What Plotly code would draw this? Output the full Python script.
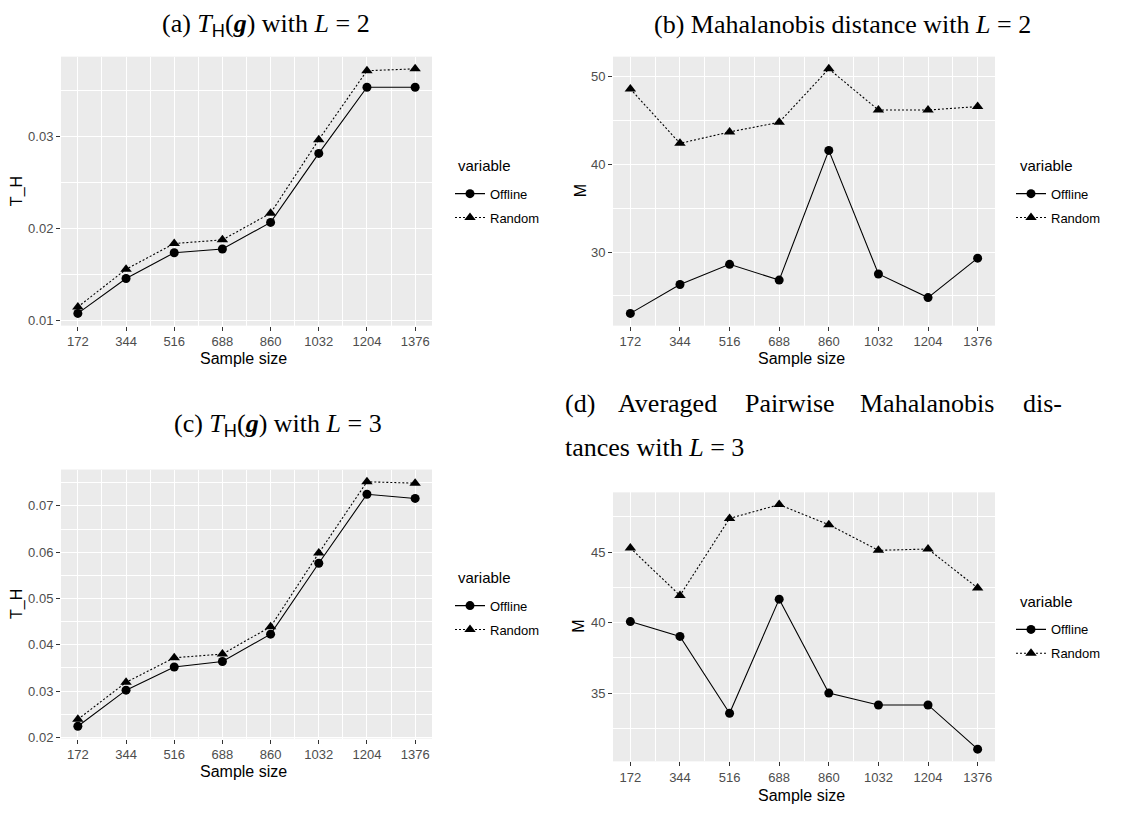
import plotly.graph_objects as go

# ---------------- data ----------------
sample_size = [172, 344, 516, 688, 860, 1032, 1204, 1376]
series_names = ["Offline", "Random"]

a_offline = [0.0108, 0.0146, 0.0174, 0.0178, 0.0207, 0.0282, 0.0354, 0.0354]
a_random = [0.0115, 0.0156, 0.0184, 0.0188, 0.0217, 0.0297, 0.0372, 0.0374]

b_offline = [23.0, 26.3, 28.6, 26.8, 41.6, 27.5, 24.8, 29.3]
b_random = [48.6, 42.4, 43.7, 44.8, 50.9, 46.2, 46.2, 46.6]

c_offline = [0.0224, 0.0302, 0.0352, 0.0364, 0.0423, 0.0576, 0.0725, 0.0716]
c_random = [0.0239, 0.0319, 0.0372, 0.0380, 0.0439, 0.0598, 0.0752, 0.0749]

d_offline = [40.07, 39.02, 33.57, 41.66, 35.0, 34.16, 34.16, 31.03]
d_random = [45.28, 41.92, 47.38, 48.36, 46.94, 45.12, 45.21, 42.45]

y_labels = ["T_H", "M", "T_H", "M"]
legend_title = "variable"

# ---------------- layout helpers ----------------
# the page body has an 8px margin, so the figure is drawn 8px in from the corner
OFF = 8
W, H = 1122 - OFF, 815 - OFF


def px(x):
    return (x - OFF) / W


def py(y):
    return 1 - (y - OFF) / H


# panel pixel boxes (in page coordinates): (left, top, right, bottom)
panels = [
    (61, 57, 432, 328),
    (613, 57, 995, 328),
    (61, 473, 432, 744),
    (613, 496, 995, 767),
]
y_dticks = [(0.01, 0.005), (10, 5), (0.01, 0.005), (5, 2.5)]
data = [(a_offline, a_random), (b_offline, b_random), (c_offline, c_random), (d_offline, d_random)]
legend_title_y = [167, 167, 582, 606]
legend_title_x = [456, 1018, 456, 1018]
legend_lefts = [450, 1011, 450, 1011]
xtitle_y = [361, 361, 777, 801]
ytitle_x = [17, 580, 17, 579]

fig = go.Figure()
annotations = []
SANS = "Liberation Sans, Arial, sans-serif"
TICK_FONT = dict(family=SANS, size=13, color="#4D4D4D")

xpad = (sample_size[-1] - sample_size[0]) * 0.05

for i, (off, rnd) in enumerate(data):
    n = i + 1
    xa = "x" if n == 1 else f"x{n}"
    ya = "y" if n == 1 else f"y{n}"
    leg = "legend" if n == 1 else f"legend{n}"
    fig.add_trace(go.Scatter(
        x=sample_size, y=off, mode="lines+markers", name=series_names[0],
        xaxis=xa, yaxis=ya, legend=leg, legendgroup=f"g{n}a",
        line=dict(color="black", width=1.1, dash="solid"),
        marker=dict(symbol="circle", size=9, color="black"),
    ))
    fig.add_trace(go.Scatter(
        x=sample_size, y=rnd, mode="lines+markers", name=series_names[1],
        xaxis=xa, yaxis=ya, legend=leg, legendgroup=f"g{n}b",
        line=dict(color="black", width=1.1, dash="2px,2px"),
        marker=dict(symbol="triangle-up", size=10, color="black"),
    ))
    l, t, r, b = panels[i]
    lo = min(min(off), min(rnd))
    hi = max(max(off), max(rnd))
    pad = (hi - lo) * 0.05
    dt, mdt = y_dticks[i]
    axis_common = dict(
        showline=False, zeroline=False, ticks="outside", ticklen=4,
        tickcolor="#333333", tickwidth=1.1, gridcolor="white", gridwidth=1.2,
        tickfont=TICK_FONT,
    )
    xkey = "xaxis" if n == 1 else f"xaxis{n}"
    ykey = "yaxis" if n == 1 else f"yaxis{n}"
    fig.update_layout(**{
        xkey: dict(
            domain=[px(l), px(r)], anchor=ya,
            range=[sample_size[0] - xpad, sample_size[-1] + xpad],
            tickmode="array", tickvals=sample_size,
            ticktext=[str(v) for v in sample_size],
            minor=dict(tickmode="linear", tick0=sample_size[0] - 86, dtick=172,
                       showgrid=True, gridcolor="white", gridwidth=0.6, ticks=""),
            **axis_common,
        ),
        ykey: dict(
            domain=[py(b), py(t)], anchor=xa,
            range=[lo - pad, hi + pad],
            tickmode="linear", dtick=dt, tick0=0,
            minor=dict(tickmode="linear", dtick=mdt, tick0=0,
                       showgrid=True, gridcolor="white", gridwidth=0.6, ticks=""),
            **axis_common,
        ),
        leg: dict(
            x=px(legend_lefts[i]), y=py(legend_title_y[i] + 13), xanchor="left", yanchor="top",
            xref="paper", yref="paper",
            bgcolor="rgba(0,0,0,0)",
            font=dict(family=SANS, size=13, color="black"),
            tracegroupgap=4, itemwidth=30,
        ),
    })
    # legend title
    annotations.append(dict(
        text=legend_title, x=px(legend_title_x[i]), y=py(legend_title_y[i]),
        xref="paper", yref="paper", showarrow=False, xanchor="left", yanchor="middle",
        font=dict(family=SANS, size=15, color="black"),
    ))
    # axis titles
    annotations.append(dict(
        text="Sample size", x=px((l + r) / 2 - 3), y=py(xtitle_y[i]), xref="paper", yref="paper",
        showarrow=False, xanchor="center", yanchor="middle",
        font=dict(family=SANS, size=16, color="black"),
    ))
    annotations.append(dict(
        text=y_labels[i], x=px(ytitle_x[i]), y=py((t + b) / 2), xref="paper", yref="paper",
        showarrow=False, xanchor="center", yanchor="middle", textangle=-90,
        font=dict(family=SANS, size=16, color="black"),
    ))

SERIF = dict(family="Liberation Serif, Times New Roman, serif", size=26, color="black")
TH = '<i>T</i><sub><span style="font-family:Liberation Sans">H</span></sub>(<b><i>g</i></b>)'

titles = [
    ("(a) " + TH + " with <i>L</i> = 2", 266, 25),
    ("(b) Mahalanobis distance with <i>L</i> = 2", 842, 25),
    ("(c) " + TH + " with <i>L</i> = 3", 278, 428),
]
for txt, cx, cy in titles:
    annotations.append(dict(
        text=txt, x=px(cx), y=py(cy), xref="paper", yref="paper", showarrow=False,
        xanchor="center", yanchor="middle", font=SERIF,
    ))

# (d) justified two-line caption
d_words = [("(d)", 563), ("Averaged", 616), ("Pairwise", 743), ("Mahalanobis", 858), ("dis-", 1021)]
for w, x0 in d_words:
    annotations.append(dict(
        text=w, x=px(x0), y=py(406), xref="paper", yref="paper", showarrow=False,
        xanchor="left", yanchor="middle", font=SERIF,
    ))
annotations.append(dict(
    text="tances with <i>L</i> = 3", x=px(563), y=py(451), xref="paper", yref="paper",
    showarrow=False, xanchor="left", yanchor="middle", font=SERIF,
))

fig.update_layout(
    width=W, height=H, margin=dict(l=0, r=0, t=0, b=0),
    paper_bgcolor="white", plot_bgcolor="#EBEBEB",
    annotations=annotations, showlegend=True,
    font=dict(family=SANS),
)

fig.write_html("out.html")
